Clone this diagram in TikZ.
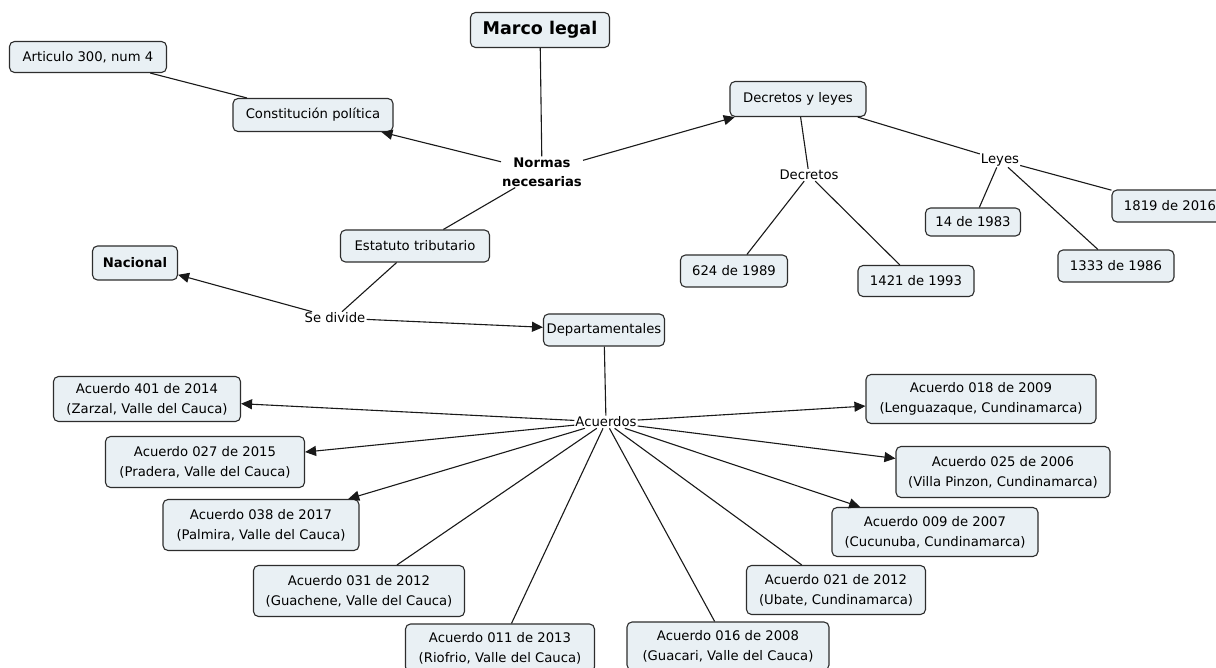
\documentclass[tikz,border=0pt]{standalone}
\usepackage{fontspec}
\setmainfont{DejaVu Sans}
\usetikzlibrary{arrows.meta}
\definecolor{boxfill}{RGB}{233,240,244}
\definecolor{boxline}{RGB}{45,45,45}
\tikzset{
  cbox/.style={draw=boxline, line width=1.1pt, fill=boxfill, rounded corners=5pt, align=center, inner sep=2pt, font=\fontsize{13.2}{20}\selectfont},
  lbl/.style={fill=white, inner sep=1pt, align=center, font=\fontsize{13.2}{19}\selectfont},
  conn/.style={draw=black!90, line width=1.1pt},
  arr/.style={conn, -{Triangle[length=11pt,width=10pt]}},
}
\begin{document}
\begin{tikzpicture}[x=1pt,y=-1pt]
\useasboundingbox[fill=white] (0,0) rectangle (1216,668);
% concepts
\node[cbox, minimum width=139pt, minimum height=35pt, font=\fontsize{17.5}{20}\selectfont\bfseries] (marco) at (540,30) {Marco legal};
\node[cbox, minimum width=157pt, minimum height=31pt] (art) at (88,57) {Articulo 300, num 4};
\node[cbox, minimum width=160pt, minimum height=33pt] (const) at (313,115) {Constitución política};
\node[lbl, font=\fontsize{13.2}{19}\selectfont\bfseries] (normas) at (542,172) {Normas\\necesarias};
\node[cbox, minimum width=136pt, minimum height=35pt] (decy) at (798,99) {Decretos y leyes};
\node[lbl] (decretos) at (809,175) {Decretos};
\node[lbl] (leyes) at (1000,160) {Leyes};
\node[cbox, minimum width=95pt, minimum height=28pt] (l14) at (973,222) {14 de 1983};
\node[cbox, minimum width=116pt, minimum height=32pt] (l1333) at (1116,266) {1333 de 1986};
\node[cbox, minimum width=116pt, minimum height=32pt] (l1819) at (1170,206) {1819 de 2016};
\node[cbox, minimum width=107pt, minimum height=32pt] (d624) at (734,271) {624 de 1989};
\node[cbox, minimum width=116pt, minimum height=31pt] (d1421) at (916,281) {1421 de 1993};
\node[cbox, minimum width=149pt, minimum height=32pt] (estat) at (415,246) {Estatuto tributario};
\node[lbl] (sediv) at (335,318) {Se divide};
\node[cbox, minimum width=85pt, minimum height=34pt, font=\fontsize{13.2}{20}\selectfont\bfseries] (nac) at (135,263) {Nacional};
\node[cbox, minimum width=121pt, minimum height=32pt] (depto) at (604,330) {Departamentales};
\node[lbl] (acu) at (606,422) {Acuerdos};
% acuerdos
\node[cbox, minimum width=187pt, minimum height=45pt] (a401) at (147,399) {Acuerdo 401 de 2014\\(Zarzal, Valle del Cauca)};
\node[cbox, minimum width=199pt, minimum height=51pt] (a027) at (205,462) {Acuerdo 027 de 2015\\(Pradera, Valle del Cauca)};
\node[cbox, minimum width=196pt, minimum height=51pt] (a038) at (261,525) {Acuerdo 038 de 2017\\(Palmira, Valle del Cauca)};
\node[cbox, minimum width=211pt, minimum height=51pt] (a031) at (359,591) {Acuerdo 031 de 2012\\(Guachene, Valle del Cauca)};
\node[cbox, minimum width=189pt, minimum height=48pt] (a011) at (500,648) {Acuerdo 011 de 2013\\(Riofrio, Valle del Cauca)};
\node[cbox, minimum width=202pt, minimum height=48pt] (a016) at (728,646) {Acuerdo 016 de 2008\\(Guacari, Valle del Cauca)};
\node[cbox, minimum width=179pt, minimum height=49pt] (a021) at (836,590) {Acuerdo 021 de 2012\\(Ubate, Cundinamarca)};
\node[cbox, minimum width=206pt, minimum height=49pt] (a009) at (935,532) {Acuerdo 009 de 2007\\(Cucunuba, Cundinamarca)};
\node[cbox, minimum width=214pt, minimum height=51pt] (a025) at (1003,472) {Acuerdo 025 de 2006\\(Villa Pinzon, Cundinamarca)};
\node[cbox, minimum width=230pt, minimum height=49pt] (a018) at (981,399) {Acuerdo 018 de 2009\\(Lenguazaque, Cundinamarca)};
% connectors
\draw[conn] (marco) -- (normas);
\draw[arr] (normas) -- (const);
\draw[arr] (normas) -- (decy);
\draw[conn] (art) -- (const);
\draw[conn] (decy) -- (decretos);
\draw[conn] (decy) -- (leyes);
\draw[conn] (leyes) -- (l14);
\draw[conn] (leyes) -- (l1333);
\draw[conn] (leyes) -- (l1819);
\draw[conn] (decretos) -- (d624);
\draw[conn] (decretos) -- (d1421);
\draw[conn] (normas) -- (estat);
\draw[conn] (estat) -- (sediv);
\draw[arr] (sediv) -- (nac);
\draw[arr] (sediv) -- (depto);
\draw[conn] (depto) -- (acu);
\draw[arr] (acu) -- (a401);
\draw[arr] (acu) -- (a027);
\draw[arr] (acu) -- (a038);
\draw[conn] (acu) -- (a031);
\draw[conn] (acu) -- (a011);
\draw[conn] (acu) -- (a016);
\draw[conn] (acu) -- (a021);
\draw[arr] (acu) -- (a009);
\draw[arr] (acu) -- (a025);
\draw[arr] (acu) -- (a018);
\end{tikzpicture}
\end{document}
